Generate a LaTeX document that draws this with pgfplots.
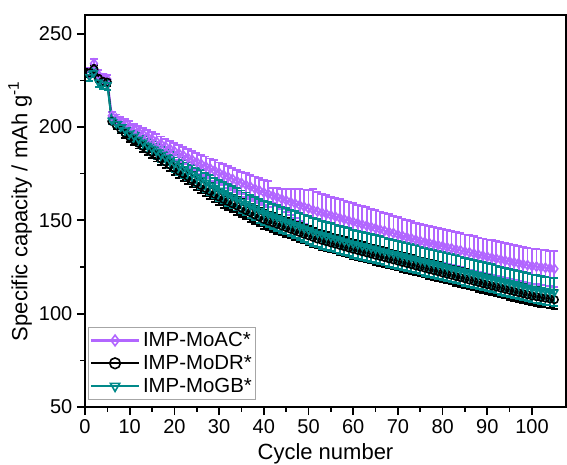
\documentclass[border=0pt]{standalone}
\usepackage{fontspec}
\setmainfont{Liberation Sans}
\usepackage{pgfplots}
\usepackage{pgfplotstable}
\pgfplotsset{compat=1.18}
\definecolor{cac}{RGB}{178,102,255}
\definecolor{cgb}{RGB}{0,137,137}
\pgfplotstableread{
x a ae d de g ge
1 229 2.5 229 2 227 2.5
2 234 2.5 231 2 229 2.5
3 228 2.5 226 2 224 2.5
4 226 2.5 224.5 2 223 2.5
5 225.5 2.5 224 2 222.5 2.5
6 206 2 203 1.5 203.5 2
7 204.5 2.2 200.9 1.8 201.75 2.3
8 203 2.5 198.75 2 200 2.5
9 201.5 2.7 196.6 2.3 198.25 2.8
10 200 3 194.5 2.5 196.5 3
11 198.7 3.1 192.85 2.6 194.9 3.15
12 197.4 3.3 191.2 2.7 193.3 3.3
13 196.1 3.4 189.55 2.8 191.7 3.45
14 194.8 3.6 187.9 2.9 190.1 3.6
15 193.5 3.7 186.25 3 188.5 3.75
16 192.2 3.9 184.6 3.1 186.9 3.9
17 190.9 4.0 182.95 3.2 185.3 4.05
18 189.6 4.2 181.3 3.3 183.7 4.2
19 188.3 4.3 179.65 3.4 182.1 4.35
20 187 4.5 178 3.5 180.5 4.5
21 185.9 4.6 176.45 3.6 179.05 4.6
22 184.7 4.7 174.9 3.7 177.6 4.7
23 183.6 4.8 173.35 3.8 176.15 4.8
24 182.4 4.9 171.8 3.9 174.7 4.9
25 181.3 5.0 170.25 4 173.25 5
26 180.1 5.1 168.7 4.1 171.8 5.1
27 179.0 5.2 167.15 4.2 170.35 5.2
28 177.8 5.3 165.6 4.3 168.9 5.3
29 176.7 5.4 164.05 4.4 167.45 5.4
30 175.5 5.5 162.5 4.5 166 5.5
31 174.4 5.6 161.3 4.55 164.8 5.6
32 173.3 5.8 160.1 4.6 163.6 5.7
33 172.2 5.9 158.9 4.65 162.4 5.8
34 171.1 6.0 157.7 4.7 161.2 5.9
35 170.0 6.1 156.5 4.75 160 6
36 169.0 6.3 155.3 4.8 158.8 6.1
37 168.0 6.4 154.1 4.85 157.6 6.2
38 167.0 6.5 152.9 4.9 156.4 6.3
39 166.0 6.7 151.7 4.95 155.2 6.4
40 165.0 6.8 150.5 5 154 6.5
41 164.1 7.0 149.6 5 153.1 6.6
42 163.2 4.0 148.75 5 152.2 6.7
43 162.4 4.7 147.9 5 151.25 6.8
44 161.5 5.5 147.0 5 150.3 6.9
45 160.7 6.2 146.1 5 149.4 7
46 159.8 7.0 145.25 5 148.5 7.1
47 159.0 7.7 144.4 5 147.6 7.2
48 158.1 8.5 143.5 5 146.7 7.3
49 157.3 9.2 142.6 5 145.75 7.4
50 156.4 10.0 141.75 5 144.8 7.5
51 155.6 11.0 140.9 5 143.9 7.5
52 154.8 10.2 140.0 5 143.0 7.5
53 154.1 10.1 139.3 5 142.3 7.5
54 153.4 10.0 138.6 5 141.6 7.5
55 152.7 10.0 137.9 5 140.9 7.5
56 152.0 10.0 137.25 5 140.25 7.5
57 151.3 10.0 136.6 5 139.6 7.5
58 150.6 10.0 135.9 5 138.9 7.5
59 149.9 10.0 135.2 5 138.2 7.5
60 149.2 10.0 134.5 5 137.5 7.5
61 148.5 9.9 133.9 5 136.9 7.5
62 147.8 9.9 133.2 5 136.3 7.5
63 147.2 9.8 132.6 5 135.7 7.5
64 146.5 9.8 132.0 5 135.1 7.5
65 145.8 9.7 131.3 5 134.5 7.5
66 145.1 9.6 130.7 5 133.9 7.5
67 144.4 9.6 130.1 5 133.3 7.5
68 143.8 9.5 129.4 5 132.7 7.5
69 143.1 9.4 128.8 5 132.1 7.5
70 142.4 9.4 128.2 5 131.5 7.5
71 141.7 9.3 127.5 5 130.9 7.5
72 141.0 9.2 126.9 5 130.3 7.5
73 140.4 9.2 126.3 5 129.7 7.5
74 139.7 9.1 125.6 5 129.1 7.5
75 139.0 9.0 125.0 5 128.5 7.5
76 138.4 9.0 124.4 5 127.9 7.5
77 137.9 9.0 123.7 5 127.3 7.5
78 137.3 9.0 123.1 5 126.7 7.5
79 136.7 9.0 122.5 5 126.1 7.5
80 136.2 9.1 121.8 5 125.5 7.5
81 135.6 9.1 121.2 5 124.9 7.5
82 135.0 9.1 120.6 5 124.3 7.5
83 134.5 9.1 119.9 5 123.7 7.5
84 133.9 9.1 119.3 5 123.1 7.5
85 133.3 9.1 118.7 5 122.5 7.5
86 132.8 9.2 118.0 5 121.9 7.5
87 132.2 9.2 117.4 5 121.3 7.5
88 131.6 9.2 116.8 5 120.7 7.5
89 131.1 9.2 116.1 5 120.1 7.5
90 130.5 9.2 115.5 5 119.5 7.5
91 130.0 9.3 114.9 5 118.9 7.5
92 129.5 9.3 114.3 5 118.3 7.5
93 129.0 9.3 113.7 5 117.7 7.5
94 128.5 9.3 113.1 5 117.1 7.5
95 128.0 9.3 112.5 5 116.5 7.5
96 127.5 9.3 111.9 5 115.9 7.5
97 127.0 9.4 111.3 5 115.3 7.5
98 126.5 9.4 110.7 5 114.7 7.5
99 126.0 9.4 110.1 5 114.1 7.5
100 125.5 9.4 109.5 5 113.5 7.5
101 125.2 9.5 109.1 5 113.1 7.5
102 124.9 9.5 108.7 5 112.7 7.5
103 124.6 9.5 108.3 5 112.3 7.5
104 124.3 9.5 107.9 5 111.9 7.5
105 124.0 9.5 107.5 5 111.5 7.5
}\data

\begin{document}
\begin{tikzpicture}
\begin{axis}[
  at={(0,0)}, anchor=south west,
  scale only axis, width=360.75pt, height=294pt,
  xmin=0, xmax=107.6, ymin=50, ymax=260,
  xtick={0,10,...,100}, ytick={50,100,...,250},
  minor x tick num=1, minor y tick num=1,
  xtick pos=lower, ytick pos=left,
  tick align=outside, major tick length=6pt, minor tick length=3.5pt,
  axis line style={line width=1.6pt},
  every tick/.style={black, line width=1.3pt},
  every minor tick/.style={black, line width=1.2pt},
  tick label style={font=\fontsize{15}{17}\selectfont},
  /pgf/number format/assume math mode=true,
  xlabel={Cycle number},
  ylabel={Specific capacity / mAh g\textsuperscript{-1}},
  label style={font=\fontsize{16.5}{19}\selectfont},
  xlabel style={at={(axis description cs:0.5,-0.092)}, anchor=north, inner sep=0pt},
  ylabel style={at={(axis description cs:-0.11,0.5)}, anchor=south, inner sep=0pt},
  legend style={at={(rel axis cs:0.0062,0.018)}, anchor=south west, draw=gray!70, line width=0.6pt,
    fill=white, font=\fontsize{15.3}{17}\selectfont, inner xsep=1pt, inner ysep=2pt,
    row sep=1pt, cells={anchor=west}},
  legend image code/.code={\draw[#1, mark repeat=2, mark phase=2, mark size=4pt, line width=1.6pt] plot coordinates {(0cm,0cm) (0.64cm,0cm) (1.28cm,0cm)};},
  error bars/error bar style={line width=1.4pt},
  error bars/error mark options={rotate=90, mark size=2.8pt, line width=1.4pt},
]
\addplot[color=cac, line width=1.5pt, mark=diamond, mark size=3.4pt, mark options={solid, fill=white, line width=1.2pt},
  error bars/.cd, y dir=both, y explicit]
  table[x=x, y=a, y error=ae] {\data};
\addlegendentry{IMP-MoAC*}
\addplot[color=black, line width=1.5pt, mark=o, mark size=2.8pt, mark options={solid, fill=white, line width=1.2pt},
  error bars/.cd, y dir=both, y explicit]
  table[x=x, y=d, y error=de] {\data};
\addlegendentry{IMP-MoDR*}
\addplot[color=cgb, line width=1.5pt, mark=triangle, mark size=3pt, mark options={solid, rotate=180, fill=white, line width=1.2pt},
  error bars/.cd, y dir=both, y explicit]
  table[x=x, y=g, y error=ge] {\data};
\addlegendentry{IMP-MoGB*}
\end{axis}
\pgfresetboundingbox
\path[use as bounding box] (-63.75pt,-42.75pt) rectangle (361.5pt,305.25pt);
\end{tikzpicture}
\end{document}
